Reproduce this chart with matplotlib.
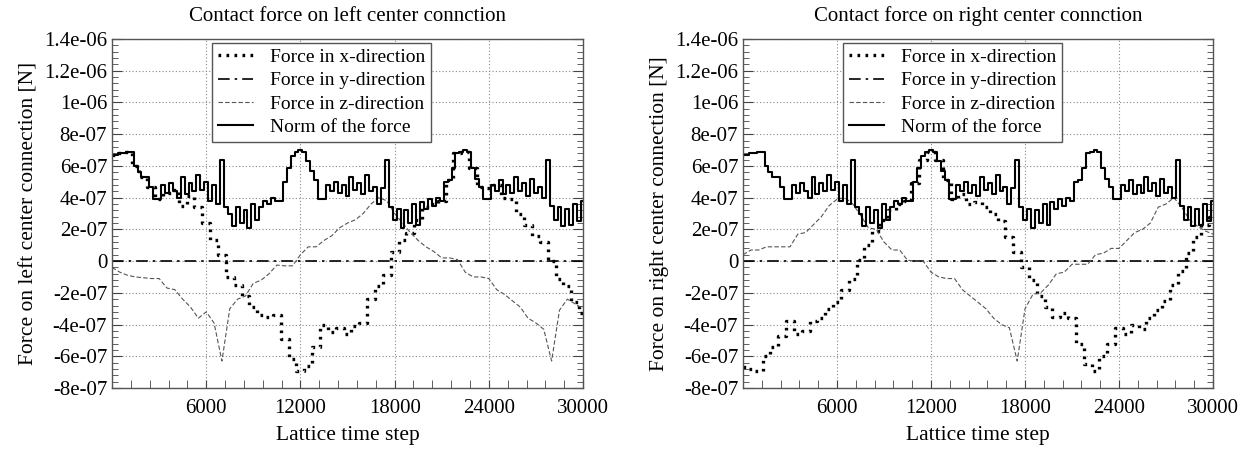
import numpy as np
import matplotlib
matplotlib.use('Agg')
import matplotlib.pyplot as plt
from matplotlib.ticker import MultipleLocator, FixedLocator

plt.rcParams['font.family'] = ['Liberation Serif', 'DejaVu Serif']

# values, unit 1e-7 N
t_fine = np.arange(0, 30001, 250)
t_coarse = np.arange(0, 30001, 500)

norm_force = [
    6.7, 6.7, 6.8, 6.8, 6.9, 6.9, 6.0, 5.6, 5.3, 5.3, 4.7, 3.9, 3.9, 4.8, 4.3, 4.9,
    4.4, 4.0, 5.3, 4.2, 4.9, 4.4, 5.4, 4.5, 5.0, 3.8, 4.8, 3.6, 6.4, 3.4, 3.0, 2.2,
    3.4, 2.4, 3.2, 2.1, 3.6, 2.6, 3.4, 3.8, 3.6, 4.0, 3.8, 3.8, 5.0, 5.9, 6.6, 6.9,
    7.0, 6.9, 6.3, 5.7, 5.1, 3.9, 3.9, 4.8, 4.4, 5.0, 4.3, 4.8, 4.1, 5.3, 4.5, 4.9,
    4.2, 5.4, 4.4, 4.7, 3.6, 4.6, 6.4, 3.4, 2.6, 3.3, 2.1, 3.2, 2.4, 3.6, 2.3, 3.7,
    3.3, 3.9, 3.5, 4.0, 3.8, 5.0, 5.1, 5.9, 6.8, 6.9, 7.0, 6.9, 5.9, 5.2, 4.7, 3.9,
    3.9, 4.8, 4.4, 5.1, 4.2, 4.8, 4.3, 5.3, 4.4, 4.9, 4.1, 5.2, 4.3, 4.7, 4.0, 6.4,
    3.5, 2.6, 3.4, 2.2, 3.3, 2.3, 3.6, 2.5, 3.8]

left_fx = [
    6.7, 6.8, 6.9, 6.0, 5.3, 4.7, 3.9, 4.3, 4.5, 3.5, 4.1, 3.4, 2.4, 1.3, 0.4, -1.0,
    -1.5, -2.2, -2.9, -3.4, -3.5, -3.4, -4.9, -6.2, -6.9, -6.6, -5.4, -4.0, -4.5, -4.2,
    -4.6, -4.1, -3.9, -2.4, -1.6, -0.9, 0.6, 1.3, 1.8, 2.6, 3.4, 3.6, 3.8, 5.1, 6.8,
    6.9, 5.9, 4.7, 4.6, 4.8, 4.0, 3.9, 3.0, 2.3, 1.6, 1.2, 0.0, -1.1, -1.6, -2.6, -3.3]
left_fz = [
    -0.4, -0.7, -0.9, -1.0, -1.05, -1.1, -1.1, -1.7, -1.8, -2.4, -2.9, -3.6, -3.2, -3.9,
    -6.3, -3.0, -2.4, -2.2, -1.4, -1.2, -0.8, -0.25, -0.3, -0.3, 0.4, 0.9, 0.9, 1.3,
    1.6, 2.1, 2.4, 2.6, 3.0, 3.6, 4.0, 3.8, 3.0, 2.4, 1.8, 1.3, 0.9, 0.6, 0.2, 0.2,
    0.1, -0.7, -1.0, -1.0, -1.1, -1.8, -2.1, -2.5, -2.9, -3.6, -3.9, -4.3, -6.3, -3.1,
    -2.4, -2.7, -3.0]

right_fx = [
    -6.7, -6.8, -6.9, -6.0, -5.4, -4.7, -3.8, -4.6, -4.4, -3.8, -3.6, -3.0, -2.6, -1.8,
    -1.1, 0.1, 1.0, 1.9, 2.6, 3.2, 3.6, 3.8, 4.9, 6.4, 6.9, 6.4, 5.1, 3.9, 4.2, 3.6,
    3.7, 3.4, 3.0, 2.5, 1.5, 0.6, -0.4, -1.2, -2.2, -2.9, -3.5, -3.3, -3.6, -5.2, -6.5,
    -6.9, -6.0, -5.2, -4.2, -4.6, -4.0, -4.3, -3.6, -3.1, -2.5, -1.5, -0.6, 0.5, 1.5,
    2.3, 2.8]
right_fz = [
    0.4, 0.7, 0.7, 0.9, 0.9, 0.9, 0.9, 1.7, 1.8, 2.3, 2.8, 3.5, 3.9, 4.0, 3.6, 2.9,
    2.1, 2.0, 1.2, 0.7, 0.7, 0.05, 0.0, 0.0, -0.7, -1.0, -1.1, -1.1, -1.8, -2.2, -2.6,
    -3.0, -3.6, -4.0, -4.2, -6.3, -3.0, -2.1, -2.0, -1.5, -0.8, -0.7, -0.2, -0.2, -0.2,
    0.4, 0.5, 0.8, 0.8, 1.3, 1.8, 2.0, 2.4, 3.4, 3.6, 4.0, 3.4, 2.6, 2.2, 1.9, 1.7]
fy = [0.0] * len(t_coarse)

titles = ['Contact force on left center connction', 'Contact force on right center connction']
ylabels = ['Force on left center connection [N]', 'Force on right center connection [N]']
ytick_vals = [1.4e-6, 1.2e-6, 1e-6, 8e-7, 6e-7, 4e-7, 2e-7, 0, -2e-7, -4e-7, -6e-7, -8e-7]
ytick_labels = ['1.4e-06', '1.2e-06', '1e-06', '8e-07', '6e-07', '4e-07', '2e-07', '0',
                '-2e-07', '-4e-07', '-6e-07', '-8e-07']
xtick_vals = [6000, 12000, 18000, 24000, 30000]

scale = 1e-7
fig = plt.figure(figsize=(12.53, 4.51), dpi=100)
ax1 = fig.add_axes([0.0894, 0.1397, 0.3759, 0.7738])
ax2 = fig.add_axes([0.593, 0.1397, 0.3751, 0.7738])

panels = [(ax1, left_fx, left_fz), (ax2, right_fx, right_fz)]
for i, (ax, fx, fz) in enumerate(panels):
    ax.plot(t_coarse, np.array(fx) * scale, color='black', lw=2.4,
            linestyle=(0, (0.8, 1.6)), drawstyle='steps-mid', label='Force in x-direction')
    ax.plot(t_coarse, np.array(fy) * scale, color='black', lw=1.2,
            linestyle=(0, (7, 3, 1.5, 3)), label='Force in y-direction')
    ax.plot(t_coarse, np.array(fz) * scale, color='#555555', lw=0.8,
            linestyle=(0, (4, 2)), label='Force in z-direction')
    ax.plot(t_fine, np.array(norm_force) * scale, color='black', lw=1.5,
            drawstyle='steps-mid', label='Norm of the force')

    ax.set_xlim(0, 30000)
    ax.set_ylim(-8e-7, 1.4e-6)
    ax.xaxis.set_major_locator(FixedLocator(xtick_vals))
    ax.xaxis.set_minor_locator(MultipleLocator(1200))
    ax.set_yticks(ytick_vals)
    ax.set_yticklabels(ytick_labels)
    ax.yaxis.set_minor_locator(MultipleLocator(4e-8))
    ax.tick_params(which='both', direction='in', left=True, right=True, top=False,
                   labelsize=15, color='#444444')
    ax.tick_params(axis='x', which='both', length=6)
    ax.tick_params(axis='y', which='major', length=7)
    ax.tick_params(axis='y', which='minor', length=4)
    ax.tick_params(axis='x', pad=8)
    ax.grid(True, which='major', color='#888888', linestyle=(0, (1, 2)), lw=0.8)
    for sp in ax.spines.values():
        sp.set_color('#555555')
        sp.set_linewidth(1.0)

    ax.set_title(titles[i], fontsize=15, pad=13)
    ax.set_xlabel('Lattice time step', fontsize=15.5, labelpad=6)
    ax.set_ylabel(ylabels[i], fontsize=15.5, labelpad=4)

    leg = ax.legend(loc='upper left', bbox_to_anchor=(0.212, 0.99), fontsize=14,
                    frameon=True, fancybox=False, framealpha=1, handlelength=1.8,
                    handletextpad=0.9, labelspacing=0.3, borderpad=0.3, borderaxespad=0)
    leg.get_frame().set_edgecolor('#555555')
    leg.get_frame().set_linewidth(1.0)

fig.savefig('out.png', dpi=100)
